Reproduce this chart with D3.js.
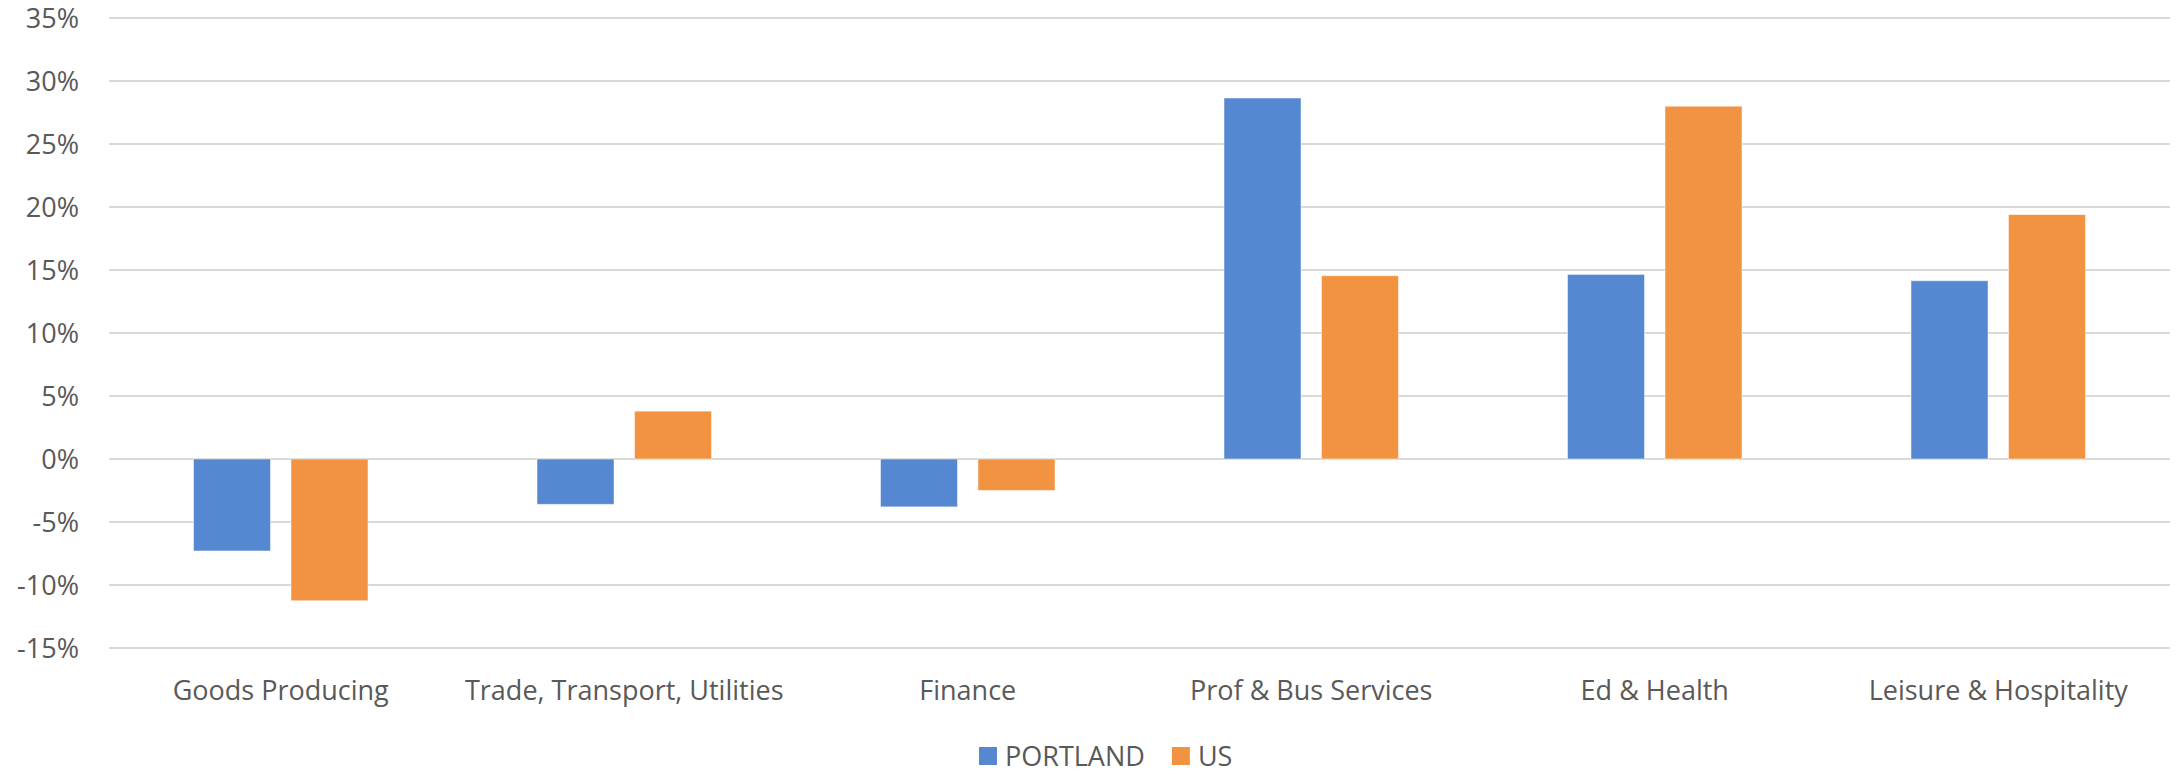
<!DOCTYPE html>
<html>
<head>
<meta charset="utf-8">
<script src="https://cdn.jsdelivr.net/npm/d3@7"></script>
<style>
  body { margin: 0; background: #fff; }
  text { font-family: "Open Sans", Lato, sans-serif; fill: #595959; }
</style>
</head>
<body>
<div id="chart"></div>
<script>
// datos
const categorias = ["Goods Producing", "Trade, Transport, Utilities", "Finance", "Prof & Bus Services", "Ed & Health", "Leisure & Hospitality"];
const series = ["PORTLAND", "US"];
const portland = [-7.3, -3.6, -3.8, 28.65, 14.65, 14.15];
const us = [-11.25, 3.8, -2.5, 14.55, 28.0, 19.4];
const ticks = [-15, -10, -5, 0, 5, 10, 15, 20, 25, 30, 35];

const colores = { PORTLAND: "#5588d0", US: "#f29341" };

const width = 2176, height = 774;
const svg = d3.select("#chart").append("svg")
    .attr("width", width)
    .attr("height", height);

const y = d3.scaleLinear().domain([-15, 35]).range([648, 18]);
const x = d3.scaleBand().domain(categorias).range([109, 2170]);
const bw = x.bandwidth();
const xSub = d3.scaleBand().domain(series)
    .range([bw * 0.246, bw * 0.754])
    .paddingInner(0.21);

// lineas de cuadricula
svg.append("g")
    .selectAll("line")
    .data(ticks)
    .enter()
    .append("line")
    .attr("x1", 109)
    .attr("x2", 2170)
    .attr("y1", d => y(d))
    .attr("y2", d => y(d))
    .attr("stroke", "#d9d9d9")
    .attr("stroke-width", 2);

// etiquetas eje Y
svg.append("g")
    .selectAll("text")
    .data(ticks)
    .enter()
    .append("text")
    .attr("x", 79)
    .attr("y", d => y(d))
    .attr("dy", "0.36em")
    .attr("text-anchor", "end")
    .attr("font-size", 27)
    .text(d => d + "%");

// barras
const filas = categorias.map((c, i) => ({ cat: c, PORTLAND: portland[i], US: us[i] }));

const grupos = svg.append("g")
    .selectAll("g")
    .data(filas)
    .enter()
    .append("g")
    .attr("transform", d => `translate(${x(d.cat)},0)`);

grupos.selectAll("rect")
    .data(d => series.map(s => ({ serie: s, valor: d[s] })))
    .enter()
    .append("rect")
    .attr("x", d => xSub(d.serie))
    .attr("width", xSub.bandwidth())
    .attr("y", d => y(Math.max(0, d.valor)))
    .attr("height", d => Math.abs(y(d.valor) - y(0)))
    .attr("fill", d => colores[d.serie])
    .attr("stroke", "#fff")
    .attr("stroke-opacity", 0.5)
    .attr("stroke-width", 1);

// etiquetas eje X
svg.append("g")
    .selectAll("text")
    .data(categorias)
    .enter()
    .append("text")
    .attr("x", d => x(d) + bw / 2)
    .attr("y", 690)
    .attr("dy", "0.36em")
    .attr("text-anchor", "middle")
    .attr("font-size", 27)
    .text(d => d);

// leyenda
const leyenda = svg.append("g");
let lx = 979;
series.forEach(s => {
    leyenda.append("rect")
        .attr("x", lx)
        .attr("y", 747)
        .attr("width", 18)
        .attr("height", 18)
        .attr("fill", colores[s]);
    const t = leyenda.append("text")
        .attr("x", lx + 26)
        .attr("y", 756)
        .attr("dy", "0.36em")
        .attr("font-size", 27)
        .text(s);
    lx += 26 + t.node().getComputedTextLength() + 27;
});
</script>
</body>
</html>
